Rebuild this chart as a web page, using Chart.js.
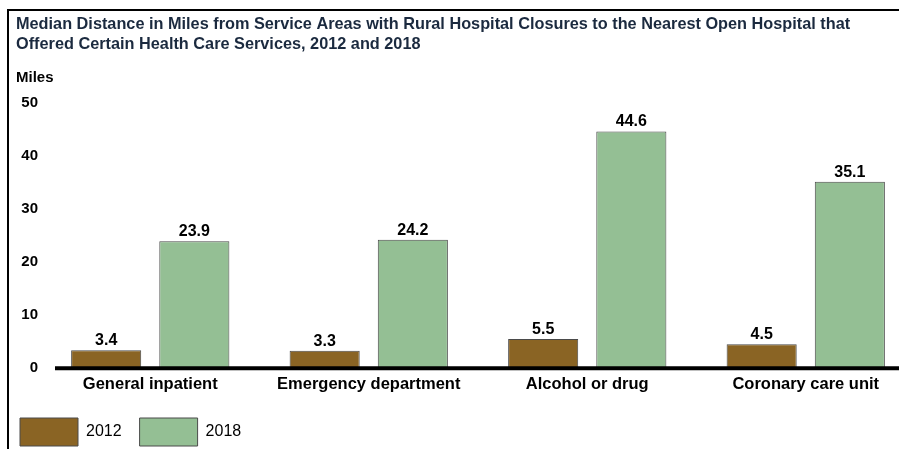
<!DOCTYPE html>
<html>
<head>
<meta charset="utf-8">
<script src="https://cdn.jsdelivr.net/npm/chart.js@4"></script>
<style>
  body { margin: 0; background: #fff; overflow: hidden; }
  #frame { position: absolute; left: 7px; top: 9px; width: 1000px; height: 600px;
           border-left: 2px solid #000; border-top: 2px solid #000; }
  #wrap { position: absolute; left: 0; top: 0; width: 915px; height: 456px; }
</style>
</head>
<body>
<div id="frame"></div>
<div id="wrap"><canvas id="chart"></canvas></div>
<script>
// Data
const categories = ['General inpatient', 'Emergency department', 'Alcohol or drug', 'Coronary care unit'];
const values2012 = [3.4, 3.3, 5.5, 4.5];
const values2018 = [23.9, 24.2, 44.6, 35.1];
const yTicks = [0, 10, 20, 30, 40, 50];

const FONT = "'Liberation Sans', Arial, sans-serif";

// Draw value labels above each bar, and the heavy baseline
const valueLabels = {
  id: 'valueLabels',
  afterDatasetsDraw(chart) {
    const ctx = chart.ctx;
    const area = chart.chartArea;
    const y0 = chart.scales.y.getPixelForValue(0);
    ctx.save();
    ctx.strokeStyle = '#000';
    ctx.lineWidth = 4;
    ctx.beginPath();
    ctx.moveTo(area.left + 14, y0);
    ctx.lineTo(area.right, y0);
    ctx.stroke();

    ctx.font = 'bold 16px ' + FONT;
    ctx.fillStyle = '#000';
    ctx.textAlign = 'center';
    ctx.textBaseline = 'alphabetic';
    chart.data.datasets.forEach((ds, i) => {
      chart.getDatasetMeta(i).data.forEach((bar, j) => {
        ctx.fillText(ds.data[j].toFixed(1), bar.x, bar.y - 5);
      });
    });
    ctx.restore();
  }
};

// Pull the legend a little closer to the left frame
const legendShift = {
  id: 'legendShift',
  afterLayout(chart) {
    chart.legend.left -= 14;
    chart.legend.right -= 14;
  }
};

const ctx = document.getElementById('chart').getContext('2d');
new Chart(ctx, {
  type: 'bar',
  data: {
    labels: categories,
    datasets: [{
      label: '2012',
      data: values2012,
      backgroundColor: '#8a6424',
      borderColor: '#4a4a4a',
      borderWidth: 1,
      categoryPercentage: 0.807,
      barPercentage: 0.795
    }, {
      label: '2018',
      data: values2018,
      backgroundColor: '#94bf94',
      borderColor: '#4a4a4a',
      borderWidth: 1,
      categoryPercentage: 0.807,
      barPercentage: 0.795
    }]
  },
  options: {
    responsive: true,
    maintainAspectRatio: false,
    animation: false,
    layout: { padding: { top: 14, left: 16, right: 0, bottom: 0 } },
    scales: {
      x: {
        grid: { display: false, drawTicks: false },
        border: { display: false },
        ticks: { color: '#000', font: { family: FONT, size: 16.5, weight: 'bold' }, padding: 6 }
      },
      y: {
        min: 0,
        max: 50,
        afterBuildTicks: axis => { axis.ticks = yTicks.map(v => ({ value: v })); },
        afterFit: axis => { axis.width = 25; },
        grid: { display: false, drawTicks: false },
        border: { display: false },
        ticks: { color: '#000', font: { family: FONT, size: 15, weight: 'bold' }, padding: 3 }
      }
    },
    plugins: {
      title: {
        display: true,
        align: 'start',
        text: ['Median Distance in Miles from Service Areas with Rural Hospital Closures to the Nearest Open Hospital that',
               'Offered Certain Health Care Services, 2012 and 2018'],
        color: '#1b2a3f',
        font: { family: FONT, size: 16.3, weight: 'bold', lineHeight: 1.25 },
        padding: { top: 0, bottom: 13 }
      },
      subtitle: {
        display: true,
        align: 'start',
        text: 'Miles',
        color: '#000',
        font: { family: FONT, size: 15, weight: 'bold' },
        padding: { top: 1, bottom: 16 }
      },
      legend: {
        position: 'bottom',
        align: 'start',
        labels: {
          boxWidth: 58,
          boxHeight: 28,
          color: '#000',
          font: { family: FONT, size: 16 },
          padding: 18
        }
      },
      tooltip: { enabled: false }
    }
  },
  plugins: [valueLabels, legendShift]
});
</script>
</body>
</html>
